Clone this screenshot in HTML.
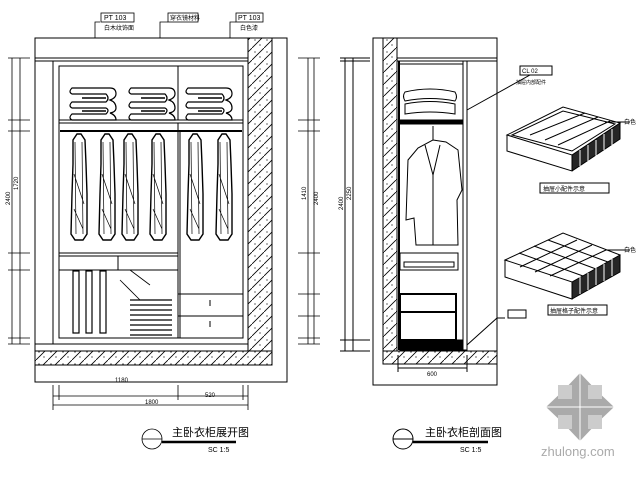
<!DOCTYPE html>
<html><head><meta charset="utf-8"><style>
html,body{margin:0;padding:0;background:#fff;}
svg{display:block;}
text{font-family:"Liberation Sans","Noto Sans CJK SC",sans-serif;}
</style></head><body>
<svg width="640" height="480" viewBox="0 0 640 480" xmlns="http://www.w3.org/2000/svg">
<defs>
<pattern id="h" width="12" height="12" patternUnits="userSpaceOnUse">
<rect width="12" height="12" fill="#fff"/>
<line x1="0" y1="12" x2="12" y2="0" stroke="#000" stroke-width="0.8"/>
<circle cx="3" cy="4" r="0.6" fill="#000"/><circle cx="8" cy="9" r="0.6" fill="#000"/>
</pattern>
<g id="gar">
<path d="M-2,0 L2,0 L6,6 L7,30 L8,60 L8,100 L4,106 L-4,106 L-8,100 L-7,60 L-6,30 L-6,6 Z" fill="none" stroke="#000" stroke-width="1.4"/>
<path d="M-4,8 L-3,100 M3,8 L4,100 M-5,40 L5,70 M-5,75 L4,95" stroke="#000" stroke-width="0.7" fill="none"/>
</g>
<g id="fold">
<path d="M0,0 H38 Q44,0 44,6 Q44,10 38,12 Q44,14 44,20 Q44,24 38,25 Q44,27 44,32 H0 Q-4,30 0,26 H34 Q38,22 34,20 H0 Q-4,18 0,14 H34 Q38,10 34,6 H0 Q-4,4 0,0Z" fill="none" stroke="#000" stroke-width="1.2"/>
<line x1="10" y1="10" x2="34" y2="10" stroke="#000" stroke-width="1.5"/>
<line x1="10" y1="23" x2="34" y2="23" stroke="#000" stroke-width="1.5"/>
</g>
</defs>

<g stroke="#000" fill="none" stroke-width="1">
<rect x="35" y="38" width="252" height="344"/>
<rect x="248" y="38" width="24" height="313" fill="url(#h)"/>
<rect x="35" y="351" width="237" height="14" fill="url(#h)"/>
<line x1="35" y1="58" x2="248" y2="58"/><line x1="35" y1="61" x2="248" y2="61"/>
<line x1="53" y1="61" x2="53" y2="344"/>
<line x1="35" y1="344" x2="248" y2="344"/>
<rect x="59" y="66" width="184" height="272"/>
<line x1="178" y1="66" x2="178" y2="338"/><line x1="180" y1="130" x2="180" y2="338"/>
<rect x="59" y="120" width="184" height="3" fill="#fff"/>
<line x1="60" y1="131" x2="242" y2="131" stroke-width="2"/>
<line x1="59" y1="253" x2="178" y2="253"/><line x1="59" y1="256" x2="178" y2="256"/>
<line x1="59" y1="270" x2="178" y2="270"/><line x1="118" y1="256" x2="118" y2="270"/>
<line x1="178" y1="294" x2="243" y2="294"/><line x1="178" y1="316" x2="243" y2="316"/>
<line x1="210" y1="300" x2="210" y2="306"/><line x1="210" y1="321" x2="210" y2="327"/>
</g>
<use href="#fold" x="72" y="88"/><use href="#fold" x="131" y="88"/><use href="#fold" x="188" y="88"/>
<use href="#gar" x="79" y="134"/><use href="#gar" x="107" y="134"/><use href="#gar" x="130" y="134"/>
<use href="#gar" x="158" y="134"/><use href="#gar" x="195" y="134"/><use href="#gar" x="224" y="134"/>
<g stroke="#000" fill="none" stroke-width="1.2">
<rect x="73" y="271" width="6" height="62"/><rect x="86" y="271" width="6" height="62"/><rect x="100" y="271" width="6" height="62"/>
<path d="M130,300 h42 M130,305 h42 M130,310 h42 M130,315 h42 M130,320 h42 M130,325 h42 M130,330 h42 M130,335 h42"/>
</g>
<g stroke="#000" fill="none" stroke-width="0.8">
<path d="M95,38 V22 H100 M160,38 V22 H168 M230,38 V22 H236"/>
<rect x="101" y="13" width="33" height="9"/><rect x="168" y="13" width="30" height="9"/><rect x="236" y="13" width="27" height="9"/>
<path d="M120,280 L140,300 M130,270 L150,285"/>
<path d="M12,58 V344 M20,58 V344 M8,58 H30 M8,120 H30 M8,131 H30 M8,253 H30 M8,270 H30 M8,338 H30 M8,344 H30"/>
<path d="M308,58 V344 M314,58 V344 M298,58 H320 M298,120 H320 M298,131 H320 M298,253 H320 M298,294 H320 M298,316 H320 M298,338 H320 M298,344 H320"/>
<path d="M53,396 H248 M53,405 H248 M53,385 V410 M178,385 V400 M248,385 V410 M59,385 V400 M243,385 V400"/>
<circle cx="152" cy="439" r="10"/><line x1="142" y1="439" x2="162" y2="439"/>
</g>
<line x1="162" y1="442" x2="236" y2="442" stroke="#000" stroke-width="2.5"/>
<g font-size="7" fill="#000">
<text x="104" y="20">PT 103</text><text x="170" y="20" font-size="6">穿衣镜材料</text><text x="238" y="20">PT 103</text>
<text x="104" y="30" font-size="6">白木纹饰面</text><text x="240" y="30" font-size="6">白色漆</text>
<text x="115" y="382" font-size="6">1180</text><text x="205" y="397" font-size="6">520</text><text x="145" y="404" font-size="6">1800</text>
<text x="172" y="436" font-size="11">主卧衣柜展开图</text><text x="208" y="452" font-size="7">SC 1:5</text>
<text transform="translate(10,205) rotate(-90)" font-size="6">2400</text>
<text transform="translate(18,190) rotate(-90)" font-size="6">1720</text>
<text transform="translate(306,200) rotate(-90)" font-size="6">1410</text>
<text transform="translate(318,205) rotate(-90)" font-size="6">2400</text>
</g>

<g stroke="#000" fill="none" stroke-width="1">
<rect x="373" y="38" width="124" height="347"/>
<rect x="383" y="38" width="14" height="313" fill="url(#h)"/>
<rect x="383" y="351" width="114" height="13" fill="url(#h)"/>
<line x1="397" y1="58" x2="497" y2="58"/><line x1="397" y1="61" x2="497" y2="61"/>
<line x1="398" y1="64" x2="463" y2="64"/>
<rect x="463" y="61" width="4" height="289"/>
<line x1="399" y1="61" x2="399" y2="350" stroke-width="2"/>
<rect x="400" y="120" width="63" height="4" fill="#000"/>
<rect x="400" y="253" width="58" height="17"/><rect x="404" y="262" width="50" height="5"/>
<rect x="400" y="294" width="56" height="46" stroke-width="2"/>
<line x1="400" y1="312" x2="456" y2="312" stroke-width="2"/>
<rect x="400" y="340" width="63" height="10" fill="#000"/>
<path d="M405,92 Q430,86 455,92 Q458,97 455,101 Q430,96 405,101 Q402,96 405,92Z M405,104 Q430,99 455,104 L455,114 Q430,110 405,114Z"/>
<path d="M433,126 V140 L418,148 L408,160 L406,220 L414,218 L416,245 L458,245 L457,200 L462,190 L458,150 L446,142 L433,140"/>
<path d="M425,145 L433,175 L440,145 M433,175 V245"/>
<path d="M345,58 V351 M353,58 V351 M340,58 H370 M340,61 H370 M340,340 H370 M340,351 H370"/>
<path d="M398,368 H467 M398,355 V372 M467,355 V372"/>
<path d="M467,110 L530,75 H545 M467,345 L497,318 H505"/>
<rect x="520" y="66" width="32" height="9"/>
<rect x="508" y="310" width="18" height="8"/>
<circle cx="403" cy="439" r="10"/><line x1="393" y1="439" x2="413" y2="439"/>
</g>
<line x1="413" y1="442" x2="488" y2="442" stroke="#000" stroke-width="2.5"/>
<g stroke="#000" fill="none" stroke-width="1">
<path d="M507,135 L563,107 L620,123 L572,155 Z M507,135 V151 L572,171 V155 M572,171 L620,139 V123"/>
<path d="M512,135 L563,111 L615,124 L572,151Z M530,135 L585,113 M545,140 L598,117 M558,145 L610,121"/>
<path d="M505,260 L563,233 L620,255 L572,282 Z M505,260 V277 L572,299 V282 M572,299 L620,272 V255"/>
<path d="M519,253 L583,276 M534,246 L596,269 M548,240 L608,262 M520,267 L577,240 M535,272 L592,245 M550,276 L606,250"/>
<rect x="540" y="183" width="69" height="10"/><rect x="548" y="305" width="59" height="10"/>
<path d="M605,122 H630 M605,250 H630"/>
</g>
<path d="M572,155 L620,123 V139 L572,171Z" fill="#000" opacity="0.85"/>
<path d="M572,282 L620,255 V272 L572,299Z" fill="#000" opacity="0.85"/>
<g stroke="#fff" stroke-width="1">
<path d="M580,150 V166 M588,145 V161 M596,140 V156 M604,134 V150 M612,129 V145"/>
<path d="M580,277 V294 M588,273 V290 M596,268 V285 M604,264 V281 M612,259 V276"/>
</g>
<g font-size="6" fill="#000">
<text x="522" y="73">CL 02</text><text x="516" y="84" font-size="5">抽屉内部配件</text>
<text x="543" y="191">抽屉小配件示意</text><text x="550" y="313">抽屉格子配件示意</text>
<text x="624" y="124">白色</text><text x="624" y="252">白色</text>
<text x="427" y="376">600</text>
<text transform="translate(343,210) rotate(-90)">2400</text>
<text transform="translate(351,200) rotate(-90)">2250</text>
<text x="425" y="436" font-size="11">主卧衣柜剖面图</text><text x="460" y="452" font-size="7">SC 1:5</text>
</g>

<g fill="#aaa">
<polygon points="580,373 598,392 580,407 562,392"/>
<polygon points="580,441 598,422 580,407 562,422"/>
<polygon points="546,407 565,389 580,407 565,425"/>
<polygon points="614,407 595,389 580,407 595,425"/>
</g>
<g fill="#ccc">
<rect x="558" y="385" width="14" height="14"/><rect x="588" y="385" width="14" height="14"/>
<rect x="558" y="415" width="14" height="14"/><rect x="588" y="415" width="14" height="14"/>
</g>
<g stroke="#fff" stroke-width="1"><line x1="580" y1="373" x2="580" y2="441"/><line x1="546" y1="407" x2="614" y2="407"/></g>
<text x="541" y="456" font-size="13" fill="#aaa">zhulong.com</text>
</svg>
</body></html>
